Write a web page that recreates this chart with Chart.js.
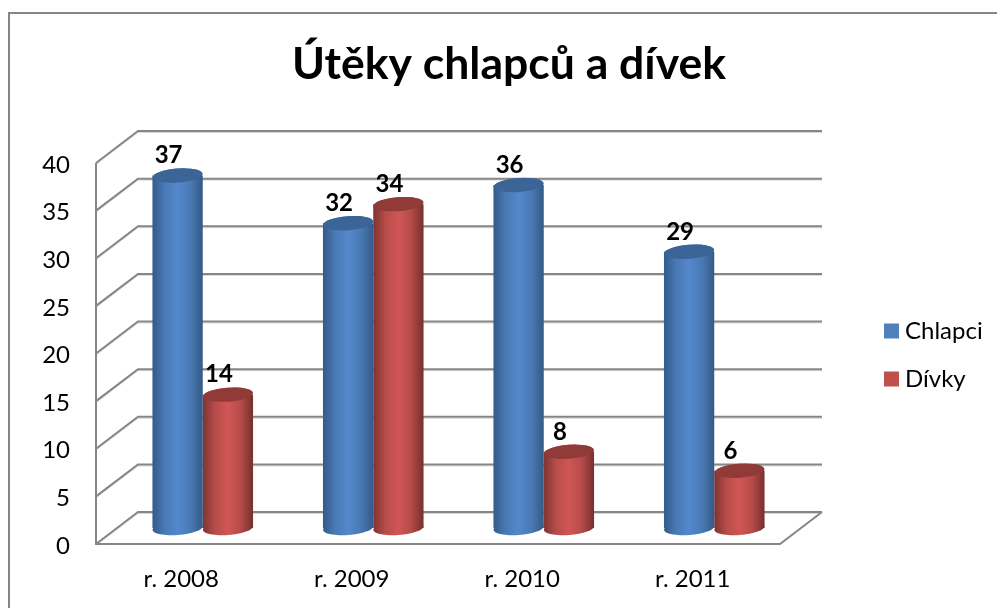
<!DOCTYPE html>
<html><head><meta charset="utf-8">
<style>html,body{margin:0;padding:0;background:#fff}canvas{display:block}</style>
<script src="https://cdn.jsdelivr.net/npm/chart.js@4"></script></head>
<body><canvas id="c" width="997" height="608"></canvas>
<script>
const categories = ['r. 2008','r. 2009','r. 2010','r. 2011'];
const chlapci = [37,32,36,29];
const divky = [14,34,8,6];
const titleText = 'Útěky chlapců a dívek';
const FONT = 'Lato';
const DX = 21.5, DY = 16;         // bar depth offset from the front plane
const BACK_X = 42, BACK_Y = 32;   // back wall offset
const RY = 7, TILT = -0.075;
const RAMPS = {
  0:['#335a8a','#4a7ab6','#5388cc','#4a7ab4','#345a88'],
  1:['#7f3331','#b84d4a','#d05655','#b54c49','#772f2d']
};
const CAPS = {0:'#3a6596',1:'#913b39'};
function grad(ctx, el, i){
  const g = ctx.createLinearGradient(el.x-el.width/2,0,el.x+el.width/2,0);
  const r = RAMPS[i];
  [0,.25,.5,.75,1].forEach((s,k)=>g.addColorStop(s,r[k]));
  return g;
}
const depth = {
  id:'depth',
  beforeLayout(chart){
    const l = chart.legend;
    if(l && !l.__patched){
      const f = l.fit;
      l.fit = function(){ f.call(this); this.width = 219; };
      l.__patched = true;
    }
  },
  afterLayout(chart){
    const l = chart.legend;
    l.left = 884 + 6 - l.options.labels.padding;
    l.top = 331 - 12 - l.options.labels.padding;
    l.bottom = l.top + 300;
  },
  afterDatasetsUpdate(chart){
    chart.data.datasets.forEach((d,i)=>{
      chart.getDatasetMeta(i).data.forEach(el=>{
        el.options = Object.assign({}, el.options, {backgroundColor:grad(chart.ctx,el,i)});
      });
    });
  },
  beforeDraw(chart){
    const c = chart.ctx;
    c.save();
    c.strokeStyle='#868686'; c.lineWidth=2;
    c.beginPath(); c.moveTo(9,chart.height); c.lineTo(9,13); c.lineTo(chart.width,13); c.stroke();
    c.restore();
  },
  beforeDatasetsDraw(chart){
    const c = chart.ctx, ys = chart.scales.y, a = chart.chartArea;
    c.save();
    const line=(pts,col,w)=>{c.strokeStyle=col;c.lineWidth=w;c.beginPath();pts.forEach((p,i)=>i?c.lineTo(p[0],p[1]):c.moveTo(p[0],p[1]));c.stroke();};
    ys.ticks.forEach(t=>{
      const y = ys.getPixelForValue(t.value);
      const pts = [[a.left,y],[a.left+BACK_X,y-BACK_Y],[a.right+44,y-BACK_Y]];
      line(pts.map(p=>[p[0],p[1]+1.5]),'#d8d8d8',1);
      line(pts,'#868686',2);
    });
    const y0 = ys.getPixelForValue(0), y40 = ys.getPixelForValue(40);
    line([[a.left,y40],[a.left,y0],[a.right+2,y0],[a.right+44,y0-BACK_Y]],'#868686',2);
    c.restore();
  },
  beforeDatasetDraw(chart,args){
    const c = chart.ctx;
    c.save(); c.translate(DX,-DY);
    const i = args.index;
    args.meta.data.forEach(el=>{
      c.fillStyle = grad(c,el,i);
      c.beginPath();
      c.ellipse(el.x,el.base,el.width/2,RY,TILT,0,Math.PI*2);
      c.fill();
    });
  },
  afterDatasetDraw(chart,args){
    const c = chart.ctx, i = args.index;
    args.meta.data.forEach(el=>{
      c.fillStyle = grad(c,el,i);
      c.beginPath();
      c.ellipse(el.x,el.y,el.width/2,RY,TILT,0,Math.PI*2);
      c.fill();
      c.fillStyle = CAPS[i];
      c.beginPath();
      c.ellipse(el.x,el.y,el.width/2-.5,RY,TILT,0,Math.PI*2);
      c.fill();
    });
    c.restore();
  },
  afterDatasetsDraw(chart){
    const c = chart.ctx;
    c.save();
    c.font = 'bold 24px '+FONT; c.fillStyle='#000'; c.textAlign='center'; c.textBaseline='middle';
    chart.data.datasets.forEach((d,i)=>{
      chart.getDatasetMeta(i).data.forEach((el,k)=>{
        c.fillText(String(d.data[k]), el.x+DX-9, el.y-DY-20);
      });
    });
    c.restore();
  }
};
new Chart(document.getElementById('c'),{
  type:'bar',
  data:{labels:categories,datasets:[
    {label:'Chlapci',data:chlapci,backgroundColor:'#4f81bd',clip:false},
    {label:'Dívky',data:divky,backgroundColor:'#c0504d',clip:false}
  ]},
  plugins:[depth],
  options:{
    responsive:false,animation:false,
    categoryPercentage:.59,barPercentage:1,
    layout:{padding:{left:21,right:0,top:0,bottom:0}},
    plugins:{
      tooltip:{enabled:false},
      title:{display:true,text:titleText,color:'#000',font:{family:FONT,size:44.5,weight:'bold',lineHeight:1.2},padding:{top:38,bottom:71.6}},
      legend:{display:true,position:'right',align:'start',
        labels:{font:{family:FONT,size:24},color:'#000',padding:24,boxWidth:3,boxHeight:3,
          generateLabels(chart){
            return chart.data.datasets.map((d,i)=>({text:d.label,fillStyle:d.backgroundColor,strokeStyle:d.backgroundColor,lineWidth:12,datasetIndex:i}));
          }}}
    },
    scales:{
      x:{grid:{display:false},border:{display:false},
        ticks:{color:'#000',font:{family:FONT,size:24},padding:13,maxRotation:0},
        afterFit(s){s.height=64;}},
      y:{min:0,max:40,grid:{display:false},border:{display:false},
        ticks:{color:'#000',font:{family:FONT,size:24},stepSize:5,padding:18,labelOffset:2},
        afterFit(s){s.width=75;}}
    }
  }
});
</script></body></html>
